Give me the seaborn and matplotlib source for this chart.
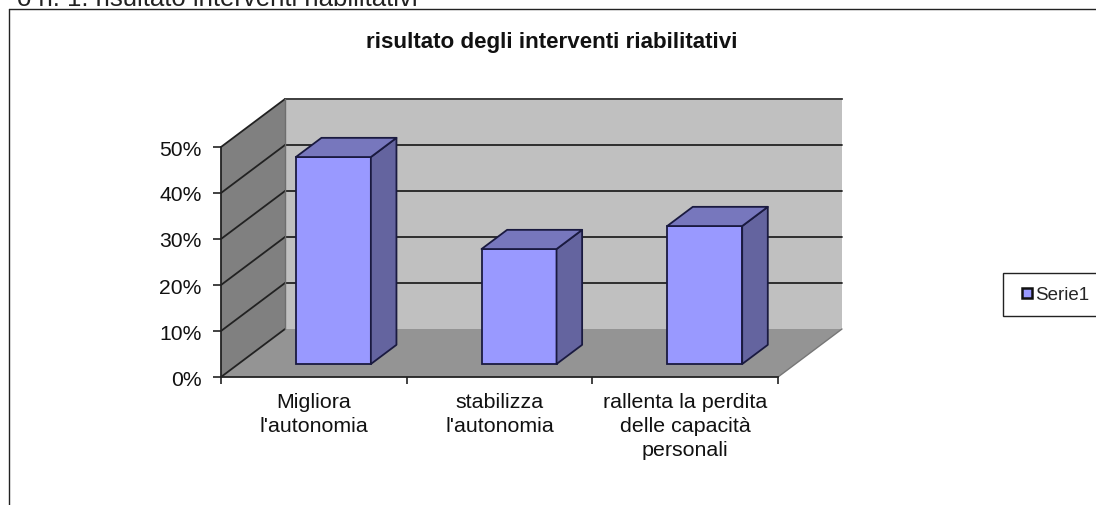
import seaborn as sns
import matplotlib.pyplot as plt
from matplotlib.patches import Polygon, Rectangle
from matplotlib.lines import Line2D

categories = ["Migliora\nl'autonomia", "stabilizza\nl'autonomia", "rallenta la perdita\ndelle capacità\npersonali"]
values = [45, 25, 30]
y_ticks = [0, 10, 20, 30, 40, 50]
y_labels = ["0%", "10%", "20%", "30%", "40%", "50%"]

W, H = 1096, 506
sns.set_style("white")
plt.rcParams["font.family"] = ["Liberation Sans", "DejaVu Sans"]

fig = plt.figure(figsize=(W / 100, H / 100), dpi=100)
ax = fig.add_axes([221 / W, (H - 378) / H, 557 / W, 230 / H])

# depth of the fake 3d box, in data units
dx = 64 / (557 / 3)
dy = 48 / (230 / 50)
bar_w = 0.404
bar_start_x = 0.305
bar_start_y = 0.27
bar_depth = 0.40

sns.barplot(x=categories, y=values, ax=ax, color="#9999FF", saturation=1, width=bar_w,
            bottom=bar_start_y * dy, edgecolor="#1A1A40", linewidth=1.3, zorder=5)
ax.set_xlim(-0.5, 2.5)
ax.set_ylim(0, 50)

line = "#222222"


def poly(pts, fc, z, ec="none", lw=0):
    ax.add_patch(Polygon(pts, closed=True, facecolor=fc, edgecolor=ec, linewidth=lw,
                         zorder=z, clip_on=False, joinstyle="round"))


x0, x1 = -0.5, 2.5
# walls and floor
poly([(x0 + dx, dy), (x1 + dx, dy), (x1 + dx, 50 + dy), (x0 + dx, 50 + dy)], "#C0C0C0", 1)
poly([(x0, 0), (x0 + dx, dy), (x0 + dx, 50 + dy), (x0, 50)], "#808080", 1)
poly([(x0, 0), (x1, 0), (x1 + dx, dy), (x0 + dx, dy)], "#949494", 1)

for t in y_ticks:
    if t > 0:
        ax.plot([x0 + dx, x1 + dx], [t + dy, t + dy], color=line, lw=1.3, zorder=2, clip_on=False)
    ax.plot([x0, x0 + dx], [t, t + dy], color=line, lw=1.3, zorder=2, clip_on=False)
ax.plot([x0 + dx, x1 + dx], [50 + dy, 50 + dy], color="#444444", lw=1.3, zorder=2, clip_on=False)
ax.plot([x0 + dx, x0 + dx], [dy, 50 + dy], color="#6E6E6E", lw=1, zorder=2, clip_on=False)
ax.plot([x1, x1 + dx], [0, dy], color="#777777", lw=1, zorder=2, clip_on=False)

# bar sides and tops, shifted into the floor
bx = bar_depth * dx
by = bar_depth * dy
edge = "#1A1A40"
for p in ax.patches:
    if not isinstance(p, Rectangle) or p.get_height() <= 0:
        continue
    p.set_x(p.get_x() + bar_start_x * dx)
    p.set_clip_on(False)
    l = p.get_x()
    r = l + p.get_width()
    b = p.get_y()
    t = b + p.get_height()
    poly([(r, b), (r + bx, b + by), (r + bx, t + by), (r, t)], "#64649F", 6, edge, 1.3)
    poly([(l, t), (r, t), (r + bx, t + by), (l + bx, t + by)], "#7777BD", 6, edge, 1.3)

sns.despine(ax=ax, top=True, right=True)
for s in ("left", "bottom"):
    ax.spines[s].set_color(line)
    ax.spines[s].set_linewidth(1.3)
    ax.spines[s].set_zorder(3)

ax.set_yticks(y_ticks)
ax.set_yticklabels(y_labels, fontsize=15.2, color="#111111")
ax.set_xticks([0, 1, 2])
ax.set_xticklabels(categories, fontsize=15.4, color="#111111", linespacing=1.31)
ax.set_xticks([-0.5, 0.5, 1.5, 2.5], minor=True)
ax.tick_params(axis="x", which="major", length=0, pad=11)
ax.tick_params(axis="x", which="minor", length=5, width=1.2, color=line, bottom=True)
ax.tick_params(axis="y", length=6, width=1.2, color=line, left=True, pad=8)
ax.set_xlabel("")
ax.set_ylabel("")

# outer chart frame, open at the right and bottom
fig.add_artist(Line2D([9 / W, 9 / W], [0, (H - 10) / H], color="#222222", lw=1))
fig.add_artist(Line2D([9 / W, 1], [(H - 10) / H, (H - 10) / H], color="#222222", lw=1))

fig.text(418 / W, (H - 6) / H, "o n. 1: risultato interventi riabilitativi", ha="right", va="baseline",
         fontsize=18.5, color="#222222")
fig.text(551.5 / W, (H - 48) / H, "risultato degli interventi riabilitativi", ha="center", va="baseline",
         fontsize=16.1, fontweight="bold", color="#111111")

handle = Line2D([], [], linestyle="none", marker="s", markersize=7.5, markerfacecolor="#9999FF",
                markeredgecolor="#111111", markeredgewidth=1.8, label="Serie1")
leg = fig.legend(handles=[handle],
                 loc="center left", bbox_to_anchor=(1003 / W, (H - 295.5) / H), fontsize=13.5,
                 frameon=True, fancybox=False, edgecolor="#222222", framealpha=1,
                 handlelength=1.25, handletextpad=-0.2, borderaxespad=0, borderpad=0.68)
leg.get_frame().set_linewidth(1)

fig.savefig("out.png", dpi=100)
